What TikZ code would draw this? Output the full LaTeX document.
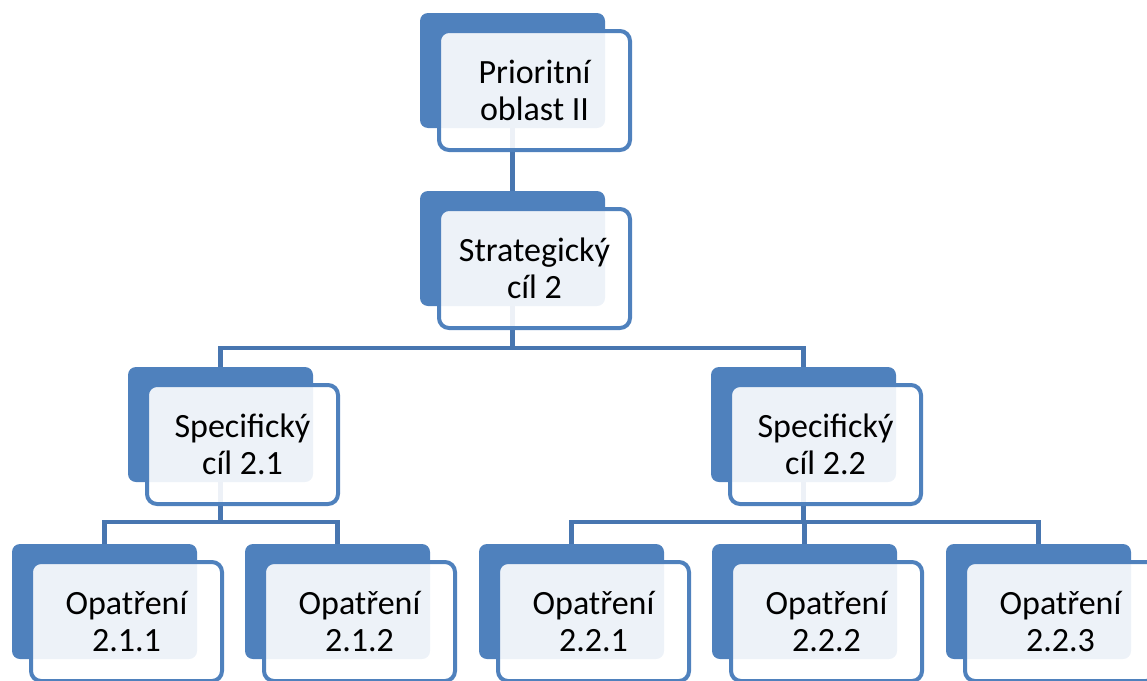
\documentclass[tikz,border=0pt]{standalone}
\usepackage{fontspec}
\setmainfont{Carlito}
\usetikzlibrary{positioning}
\usetikzlibrary{backgrounds}
\definecolor{boxblue}{RGB}{79,129,189}
\definecolor{lineblue}{RGB}{72,118,176}

\begin{document}
\begin{tikzpicture}[x=1pt,y=-1pt,
 cardback/.style={anchor=north west,fill=boxblue,rounded corners=8pt,minimum width=185pt,minimum height=115pt,inner sep=0pt,outer sep=0pt},
 cardframe/.style={draw=boxblue,line width=4pt,fill=white,fill opacity=0.9,text opacity=1,rounded corners=10pt,minimum width=191pt,minimum height=119pt,inner sep=0pt,align=center,font=\fontsize{34}{37}\selectfont},
 elbow/.style={draw=lineblue,line width=4.5pt}]
 \useasboundingbox (0,0) rectangle (1147,680);
 \clip (0,0) rectangle (1147,680);
 \node[cardback] (po-b) at (420,13) {};
 \node[cardframe,below right=16pt and 17pt of po-b.north west] (po) {Prioritní\\oblast II};
 \node[cardback] (sc-b) at (420,191) {};
 \node[cardframe,below right=16pt and 17pt of sc-b.north west] (sc) {Strategický\\cíl 2};
 \node[cardback] (s1-b) at (128,367) {};
 \node[cardframe,below right=16pt and 17pt of s1-b.north west] (s1) {Specifický\\cíl 2.1};
 \node[cardback] (s2-b) at (711,367) {};
 \node[cardframe,below right=16pt and 17pt of s2-b.north west] (s2) {Specifický\\cíl 2.2};
 \node[cardback] (o11-b) at (12,544) {};
 \node[cardframe,below right=16pt and 17pt of o11-b.north west] (o11) {Opatření\\2.1.1};
 \node[cardback] (o12-b) at (245,544) {};
 \node[cardframe,below right=16pt and 17pt of o12-b.north west] (o12) {Opatření\\2.1.2};
 \node[cardback] (o21-b) at (479,544) {};
 \node[cardframe,below right=16pt and 17pt of o21-b.north west] (o21) {Opatření\\2.2.1};
 \node[cardback] (o22-b) at (712,544) {};
 \node[cardframe,below right=16pt and 17pt of o22-b.north west] (o22) {Opatření\\2.2.2};
 \node[cardback] (o23-b) at (946,544) {};
 \node[cardframe,below right=16pt and 17pt of o23-b.north west] (o23) {Opatření\\2.2.3};
 \begin{pgfonlayer}{background}
 \draw[elbow] (po-b.south) -- (sc-b.north);
 \draw[elbow] (sc-b.south) -- ++(0,42) -| (s1-b.north);
 \draw[elbow] (sc-b.south) -- ++(0,42) -| (s2-b.north);
 \draw[elbow] (s1-b.south) -- ++(0,40) -| (o11-b.north);
 \draw[elbow] (s1-b.south) -- ++(0,40) -| (o12-b.north);
 \draw[elbow] (s2-b.south) -- ++(0,40) -| (o21-b.north);
 \draw[elbow] (s2-b.south) -- ++(0,40) -| (o22-b.north);
 \draw[elbow] (s2-b.south) -- ++(0,40) -| (o23-b.north);
 \end{pgfonlayer}
\end{tikzpicture}
\end{document}
